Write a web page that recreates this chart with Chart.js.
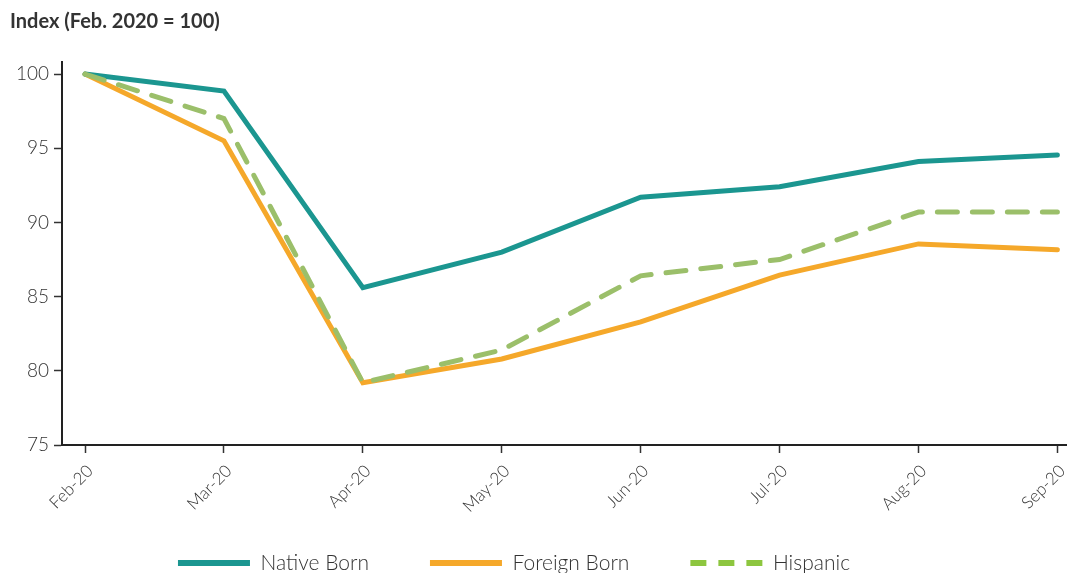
<!DOCTYPE html>
<html>
<head>
<meta charset="utf-8">
<script src="https://cdn.jsdelivr.net/npm/chart.js@4/dist/chart.umd.min.js"></script>
<style>
  html, body { margin: 0; padding: 0; background: #fff; overflow: hidden; }
  #wrap { width: 1068px; height: 573px; }
</style>
</head>
<body>
<div id="wrap"><canvas id="chart"></canvas></div>
<script>
// data
const months = ["Feb-20", "Mar-20", "Apr-20", "May-20", "Jun-20", "Jul-20", "Aug-20", "Sep-20"];
const nativeBorn = [100, 98.85, 85.6, 88.0, 91.7, 92.4, 94.1, 94.55];
const foreignBorn = [100, 95.5, 79.2, 80.8, 83.3, 86.45, 88.55, 88.15];
const hispanic = [100, 97.0, 79.2, 81.4, 86.4, 87.5, 90.7, 90.7];
const yTicks = [75, 80, 85, 90, 95, 100];

const toPoints = arr => arr.map((v, i) => ({ x: i, y: v }));
const txt = "#333333";
const font = "Lato, 'Noto Sans', sans-serif";

// labels of the x axis hang below the scale box, don't clip them;
// legend sits a bit left of centre in the original
const layoutTweaks = {
    id: "layoutTweaks",
    afterLayout(chart) {
        chart.scales.x.bottom = chart.height + 20;
        chart.legend.left -= 24;
        chart.legend.right -= 24;
    }
};

const ctx = document.getElementById("chart").getContext("2d");

new Chart(ctx, {
    type: "line",
    data: {
        datasets: [
            { label: "Native Born", data: toPoints(nativeBorn), borderColor: "#1b9690", order: 2 },
            { label: "Foreign Born", data: toPoints(foreignBorn), borderColor: "#f5a82a", order: 3 },
            { label: "Hispanic", data: toPoints(hispanic), borderColor: "#9bbf6a", borderDash: [20, 15], order: 1 }
        ]
    },
    plugins: [layoutTweaks],
    options: {
        responsive: true,
        maintainAspectRatio: false,
        animation: false,
        datasets: {
            line: { borderWidth: 5, pointRadius: 0, tension: 0, borderCapStyle: "round", fill: false }
        },
        layout: { padding: { left: 10, right: 2, top: 0, bottom: -10.5 } },
        scales: {
            x: {
                type: "linear",
                min: -0.166,
                max: 7.062,
                afterBuildTicks: scale => { scale.ticks = months.map((m, i) => ({ value: i })); },
                afterFit: scale => {
                    scale.height = 46.5;
                    scale.paddingLeft = 0;
                    scale.paddingRight = 0;
                },
                ticks: {
                    callback: v => months[v],
                    minRotation: 45,
                    maxRotation: 45,
                    color: txt,
                    padding: 8,
                    labelOffset: 5,
                    font: { family: font, size: 17, weight: "300" }
                },
                grid: { drawOnChartArea: false, drawTicks: true, tickLength: 8, tickColor: "#333", tickWidth: 1.5 },
                border: { display: true, color: "#222", width: 2 }
            },
            y: {
                min: 75,
                max: 100.81,
                afterBuildTicks: scale => { scale.ticks = yTicks.map(v => ({ value: v })); },
                afterFit: scale => { scale.width = 52; },
                ticks: {
                    color: txt,
                    padding: 5,
                    font: { family: font, size: 19, weight: "300" }
                },
                grid: { drawOnChartArea: false, drawTicks: true, tickLength: 8, tickColor: "#333", tickWidth: 1.5 },
                border: { display: true, color: "#222", width: 2 }
            }
        },
        plugins: {
            tooltip: { enabled: false },
            title: {
                display: true,
                text: "Index (Feb. 2020 = 100)",
                align: "start",
                color: txt,
                font: { family: font, size: 20, weight: "bold" },
                padding: { top: 10, bottom: 28 }
            },
            legend: {
                position: "bottom",
                align: "center",
                labels: {
                    color: txt,
                    font: { family: font, size: 21, weight: "300" },
                    usePointStyle: true,
                    pointStyle: "line",
                    pointStyleWidth: 72,
                    padding: 61,
                    sort: (a, b) => a.datasetIndex - b.datasetIndex,
                    generateLabels: chart => {
                        const items = Chart.defaults.plugins.legend.labels.generateLabels(chart);
                        items.forEach(it => {
                            it.lineWidth = 6;
                            it.lineCap = "butt";
                            if (it.text === "Hispanic") {
                                it.strokeStyle = "#8dc63f";
                                it.lineDash = [16, 12];
                            }
                        });
                        return items;
                    }
                }
            }
        }
    }
});
</script>
</body>
</html>
